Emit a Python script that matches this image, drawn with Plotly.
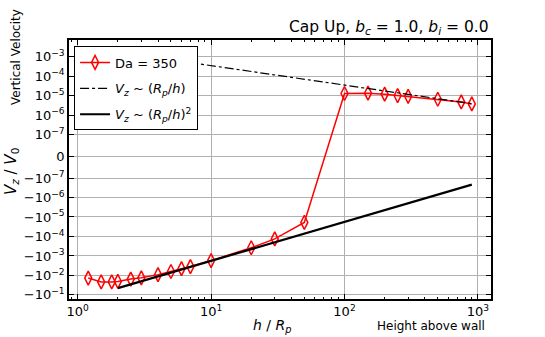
import numpy as np
import plotly.graph_objects as go

# Da = 350 series (h / Rp, Vz / V0)
h_da = [1.2, 1.5, 1.8, 2, 2.5, 3, 4, 5, 6, 7, 10, 20, 30, 50,
        100, 150, 200, 250, 300, 500, 750, 900]
vz_da = [-0.0136, -0.0214, -0.0214, -0.0203, -0.0153, -0.0133, -0.0091, -0.0063,
         -0.0045, -0.0035, -0.00173, -0.000378, -0.000133, -1.9e-5,
         1.30e-5, 1.35e-5, 1.2e-5, 1.02e-5, 9.3e-6, 6.6e-6, 4.8e-6, 3.8e-6]

# scaling lines (end points)
h_fit = [2, 900]
vz_lin = [1.75e-3, 3.9e-6]
vz_sq = [-4.47e-2, -2.2e-7]

# y tick labels
ytick_vals = [1e-3, 1e-4, 1e-5, 1e-6, 1e-7, 0, -1e-7, -1e-6, -1e-5, -1e-4, -1e-3, -1e-2, -1e-1]
ytick_text = ["10<sup>−3</sup>", "10<sup>−4</sup>", "10<sup>−5</sup>", "10<sup>−6</sup>",
              "10<sup>−7</sup>", "0", "−10<sup>−7</sup>", "−10<sup>−6</sup>",
              "−10<sup>−5</sup>", "−10<sup>−4</sup>", "−10<sup>−3</sup>",
              "−10<sup>−2</sup>", "−10<sup>−1</sup>"]

LINTHRESH = 1e-7
LINSCALE = 1.0 / (1 - 1 / 10.0)


def symlog(v):
    v = np.asarray(v, dtype=float)
    a = np.abs(v)
    out = np.where(a <= LINTHRESH, v / LINTHRESH * LINSCALE,
                   np.sign(v) * (LINSCALE + np.log10(np.maximum(a, 1e-300) / LINTHRESH)))
    return out


FONT = "DejaVu Sans"

fig = go.Figure()
fig.add_trace(go.Scatter(x=h_da, y=symlog(vz_da), mode="lines+markers", name="Da = 350",
                         legendgroup="a",
                         line=dict(color="red", width=1.5),
                         marker=dict(symbol="diamond-tall-open", size=10, color="red",
                                     line=dict(width=1.5))))
fig.add_trace(go.Scatter(x=h_fit, y=symlog(vz_lin), mode="lines", legendgroup="b",
                         name="<i>V</i><sub><i>z</i></sub> ~ (<i>R</i><sub><i>p</i></sub>/<i>h</i>)",
                         line=dict(color="black", width=1.2, dash="dashdot")))
fig.add_trace(go.Scatter(x=h_fit, y=symlog(vz_sq), mode="lines", legendgroup="c",
                         name="<i>V</i><sub><i>z</i></sub> ~ (<i>R</i><sub><i>p</i></sub>/<i>h</i>)<sup>2</sup>",
                         line=dict(color="black", width=2.2)))

fig.update_xaxes(type="log", range=[-0.065, 3.098],
                 tickvals=[1, 10, 100, 1000],
                 ticktext=["10<sup>0</sup>", "10<sup>1</sup>", "10<sup>2</sup>", "10<sup>3</sup>"],
                 ticks="inside", ticklen=5, tickcolor="black", mirror="ticks",
                 showline=True, linecolor="black", linewidth=1.5,
                 showgrid=True, gridcolor="#b0b0b0", gridwidth=1, zeroline=False,
                 minor=dict(ticks="inside", ticklen=2.5, tickcolor="black",
                            dtick="D1", showgrid=False),
                 tickfont=dict(family=FONT, size=13, color="black"))
fig.update_yaxes(range=[-7.32, 5.97],
                 tickvals=list(symlog(ytick_vals)), ticktext=ytick_text,
                 ticks="inside", ticklen=5, tickcolor="black", mirror="ticks",
                 showline=True, linecolor="black", linewidth=1.5,
                 showgrid=True, gridcolor="#b0b0b0", gridwidth=1, zeroline=False,
                 tickfont=dict(family=FONT, size=13, color="black"))

fig.update_layout(
    width=545, height=337,
    margin=dict(l=69, r=54, t=40, b=38),
    plot_bgcolor="white", paper_bgcolor="white",
    font=dict(family=FONT, size=13, color="black"),
    showlegend=True,
    legend=dict(x=0.012, y=0.975, xanchor="left", yanchor="top",
                bgcolor="white", bordercolor="black", borderwidth=1,
                font=dict(family=FONT, size=13), itemwidth=30,
                tracegroupgap=6),
    annotations=[
        dict(text="Cap Up, <i>b</i><sub><i>c</i></sub> = 1.0, <i>b</i><sub><i>i</i></sub> = 0.0",
             xref="paper", yref="paper", x=1, y=1, xanchor="right", yanchor="bottom",
             yshift=0, showarrow=False, font=dict(family=FONT, size=15.5)),
        dict(text="Vertical Velocity", xref="paper", yref="paper",
             x=(16 - 69) / 422, y=(299 - 57) / 259, textangle=-90,
             xanchor="center", yanchor="middle", showarrow=False,
             font=dict(family=FONT, size=12)),
        dict(text="<i>V</i><sub><i>z</i></sub> / <i>V</i><sub>0</sub>", xref="paper", yref="paper",
             x=(11 - 69) / 422, y=(299 - 172) / 259, textangle=-90,
             xanchor="center", yanchor="middle", showarrow=False,
             font=dict(family=FONT, size=15)),
        dict(text="<i>h</i> / <i>R</i><sub><i>p</i></sub>", xref="paper", yref="paper",
             x=(272 - 69) / 422, y=(299 - 326) / 259,
             xanchor="center", yanchor="middle", showarrow=False,
             font=dict(family=FONT, size=14)),
        dict(text="Height above wall", xref="paper", yref="paper",
             x=(487 - 69) / 422, y=(299 - 326) / 259,
             xanchor="right", yanchor="middle", showarrow=False,
             font=dict(family=FONT, size=12)),
    ],
)

# drop the default 8px page margin so the figure fills the window
fig.write_html("out.html", config={"displayModeBar": False},
               post_script="document.body.style.margin = '0px';")
